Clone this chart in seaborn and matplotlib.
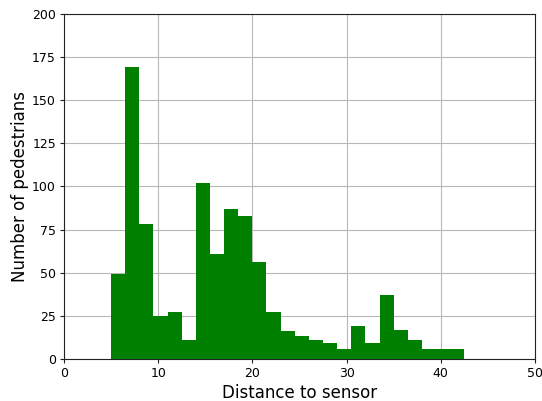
import matplotlib
matplotlib.use("Agg")
import matplotlib.pyplot as plt
import seaborn as sns
import numpy as np

bin_edges = [5 + 1.5 * i for i in range(26)]
counts = [49, 169, 78, 25, 27, 11, 102, 61, 87, 83, 56, 27, 16, 13, 11, 9, 6, 19, 9, 37, 17, 11, 6, 6, 6]
xticks = [0, 10, 20, 30, 40, 50]
yticks = [0, 25, 50, 75, 100, 125, 150, 175, 200]

sns.set_style("white")
plt.rcParams['font.family'] = ['DejaVu Sans']
plt.rcParams['text.color'] = 'black'
plt.rcParams['axes.labelcolor'] = 'black'

fig = plt.figure(figsize=(5.42, 4.01), dpi=100)
ax = fig.add_axes([0.118, 0.105, 0.869, 0.860])
centers = [(bin_edges[i] + bin_edges[i + 1]) / 2 for i in range(len(counts))]
sns.histplot(x=centers, weights=counts, bins=bin_edges, color='#008000', alpha=1,
             edgecolor='none', linewidth=0, ax=ax, zorder=3)
ax.set_xlim(0, 50)
ax.set_ylim(0, 200)
ax.set_xticks(xticks)
ax.set_yticks(yticks)
ax.grid(True, color='#b8b8b8', linewidth=0.8, zorder=0)
ax.set_axisbelow(True)
ax.tick_params(axis='both', labelsize=9, direction='out', length=3.2, width=0.8,
               pad=2.5, bottom=True, left=True, colors='#222222', labelcolor='black')
for s in ax.spines.values():
    s.set_color('#222222')
    s.set_linewidth(0.8)
ax.set_xlabel('Distance to sensor', fontsize=12, labelpad=3, color='black')
ax.set_ylabel('Number of pedestrians', fontsize=12, labelpad=2, color='black')
fig.savefig('out.png', dpi=100)
